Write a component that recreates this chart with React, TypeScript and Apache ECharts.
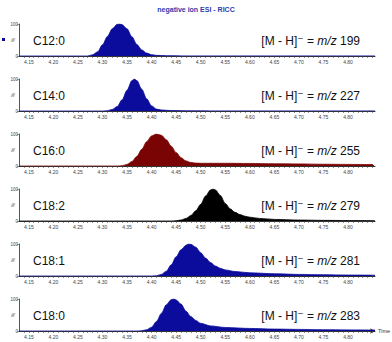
import React, { useEffect, useRef } from "react";
import * as echarts from "echarts";

const chartTitle = "negative ion ESI - RICC";
const compounds = ["C12:0", "C14:0", "C16:0", "C18:2", "C18:1", "C18:0"];
const mzValues = ["199", "227", "255", "279", "281", "283"];
const xMin = 4.13;
const xMax = 4.855;
const tickStep = 0.01;
const labelEvery = 5;
const lastLabel = 4.8;

const c12 = [
  [4.13, 0], [4.27, 0], [4.28, 4], [4.29, 13], [4.3, 35], [4.31, 61], [4.32, 85], [4.33, 99],
  [4.335, 100], [4.34, 98], [4.35, 85], [4.36, 60], [4.37, 36], [4.38, 19], [4.39, 9], [4.4, 4],
  [4.41, 2], [4.43, 1], [4.47, 0.3], [4.855, 0.3],
];
const c14 = [
  [4.13, 0], [4.3, 0], [4.31, 1], [4.32, 5], [4.33, 14], [4.34, 35], [4.35, 65], [4.36, 95],
  [4.365, 100], [4.37, 95], [4.38, 68], [4.39, 38], [4.4, 16], [4.41, 6], [4.42, 3], [4.44, 1.5],
  [4.48, 0.6], [4.52, 0.3], [4.855, 0.3],
];
const c16 = [
  [4.13, 0], [4.33, 0], [4.34, 1], [4.35, 5], [4.36, 14], [4.37, 30], [4.38, 52], [4.39, 76],
  [4.4, 94], [4.41, 100], [4.42, 96], [4.43, 82], [4.44, 62], [4.45, 42], [4.46, 26], [4.47, 16],
  [4.48, 11], [4.49, 9], [4.5, 8.5], [4.55, 8.5], [4.6, 8], [4.65, 7], [4.7, 6.5], [4.75, 5.5],
  [4.8, 5], [4.85, 4.5], [4.853, 0],
];
const c182 = [
  [4.13, 0], [4.44, 0], [4.45, 1], [4.46, 3], [4.47, 8], [4.48, 17], [4.49, 32], [4.5, 52],
  [4.51, 78], [4.52, 97], [4.525, 100], [4.53, 97], [4.54, 80], [4.55, 55], [4.56, 38], [4.57, 27],
  [4.58, 20], [4.59, 15], [4.6, 12], [4.62, 8], [4.65, 5], [4.7, 3], [4.75, 2], [4.8, 1.5],
  [4.855, 1],
];
const c181 = [
  [4.13, 0], [4.4, 0], [4.41, 1], [4.42, 5], [4.43, 15], [4.44, 35], [4.45, 60], [4.46, 82],
  [4.47, 96], [4.475, 100], [4.48, 99], [4.49, 90], [4.5, 73], [4.51, 56], [4.52, 42], [4.53, 31],
  [4.54, 24], [4.55, 19], [4.57, 14], [4.6, 10], [4.65, 7], [4.7, 5], [4.75, 4], [4.8, 3],
  [4.855, 2.5],
];
const c180 = [
  [4.13, 0], [4.37, 0], [4.38, 1], [4.39, 4], [4.4, 12], [4.41, 30], [4.42, 55], [4.43, 82],
  [4.44, 98], [4.445, 100], [4.45, 97], [4.46, 84], [4.47, 62], [4.48, 45], [4.49, 33], [4.5, 24],
  [4.52, 16], [4.55, 11], [4.6, 8], [4.65, 6], [4.7, 5], [4.75, 4], [4.8, 3.5], [4.855, 3],
];

const seriesData = [c12, c14, c16, c182, c181, c180];
const seriesColors = ["#0c0c9c", "#0c0c9c", "#7a0404", "#000000", "#0c0c9c", "#0c0c9c"];

const FONT = "'Liberation Sans', Arial, 'DejaVu Sans', sans-serif";

export default function App() {
  const ref = useRef<HTMLDivElement>(null);
  useEffect(() => {
    if (!ref.current) return;
    const chart = echarts.init(ref.current, null, { renderer: "svg" });
    const n = compounds.length;
    const top0 = 24;
    const step = 55;
    const h = 32;
    const grids = compounds.map((_, i) => ({
      left: 19,
      width: 356,
      top: top0 + i * step,
      height: h,
      containLabel: false,
      outerBoundsMode: "none",
    }));
    const xAxes = compounds.map((_, i) => ({
      type: "value",
      gridIndex: i,
      min: xMin,
      max: xMax,
      interval: tickStep,
      name: i === n - 1 ? "Time" : "",
      nameLocation: "end",
      nameGap: 3,
      nameMoveOverlap: false,
      nameTextStyle: { fontSize: 5.5, color: "#333", fontFamily: FONT, verticalAlign: "middle" },
      axisLine: {
        show: true,
        onZero: false,
        lineStyle: { color: "#333", width: 1 },
        symbol: i === n - 1 ? ["none", "arrow"] : ["none", "none"],
        symbolSize: [4, 5],
      },
      axisTick: { show: true, length: 2, lineStyle: { color: "#444", width: 0.6 } },
      axisLabel: {
        fontSize: 5,
        color: "#444",
        margin: 3,
        fontFamily: FONT,
        showMinLabel: false,
        showMaxLabel: false,
        hideOverlap: false,
        formatter: (v: number) =>
          Math.round(v / tickStep) % labelEvery === 0 && v <= lastLabel + 0.001 ? v.toFixed(2) : "",
      },
      splitLine: { show: false },
    }));
    const yAxes = compounds.map((_, i) => ({
      type: "value",
      gridIndex: i,
      min: 0,
      max: 100,
      interval: 100,
      name: "%",
      nameLocation: "middle",
      nameRotate: 90,
      nameGap: 4,
      nameMoveOverlap: false,
      nameTextStyle: { fontSize: 5, color: "#444", fontFamily: FONT },
      axisLine: { show: true, lineStyle: { color: "#555", width: 1 } },
      axisTick: { show: true, length: 2, lineStyle: { color: "#555", width: 0.6 } },
      axisLabel: { fontSize: 4.5, color: "#444", margin: 1, fontFamily: FONT, showMinLabel: true, showMaxLabel: true },
      splitLine: { show: false },
    }));
    const series = compounds.map((name, i) => ({
      name,
      type: "line",
      xAxisIndex: i,
      yAxisIndex: i,
      data: seriesData[i],
      showSymbol: false,
      smooth: 0.3,
      smoothMonotone: "x",
      lineStyle: { color: seriesColors[i], width: 0.8 },
      areaStyle: { color: seriesColors[i], opacity: 1 },
      itemStyle: { color: seriesColors[i] },
    }));
    const graphics: any[] = [
      { type: "rect", shape: { x: 2, y: 38, width: 3, height: 3 }, style: { fill: "#0c0c9c" } },
    ];
    compounds.forEach((name, i) => {
      const cy = top0 + i * step + h / 2 + 1;
      graphics.push({
        type: "text",
        x: 33,
        y: cy,
        style: { text: name, fontSize: 12, fontFamily: FONT, fill: "#111", verticalAlign: "middle", textAlign: "left" },
      });
      graphics.push({
        type: "text",
        x: 360,
        y: cy,
        style: {
          text: `{a|[M - H]⁻ = }{i|m/z}{a| ${mzValues[i]}}`,
          textAlign: "right",
          verticalAlign: "middle",
          rich: {
            a: { fontSize: 12, fontFamily: FONT, fill: "#111" },
            i: { fontSize: 12, fontFamily: FONT, fill: "#111", fontStyle: "italic" },
          },
        },
      });
    });
    chart.setOption({
      animation: false,
      title: {
        text: chartTitle,
        left: "center",
        top: 1,
        textStyle: { fontSize: 7, fontWeight: "bold", color: "#2a3cae", fontFamily: FONT },
      },
      grid: grids,
      xAxis: xAxes,
      yAxis: yAxes,
      series,
      graphic: graphics,
    });
    return () => chart.dispose();
  }, []);
  return (
    <div
      ref={ref}
      style={{ position: "fixed", left: 0, top: 0, width: 392, height: 342, background: "#fff" }}
    />
  );
}
